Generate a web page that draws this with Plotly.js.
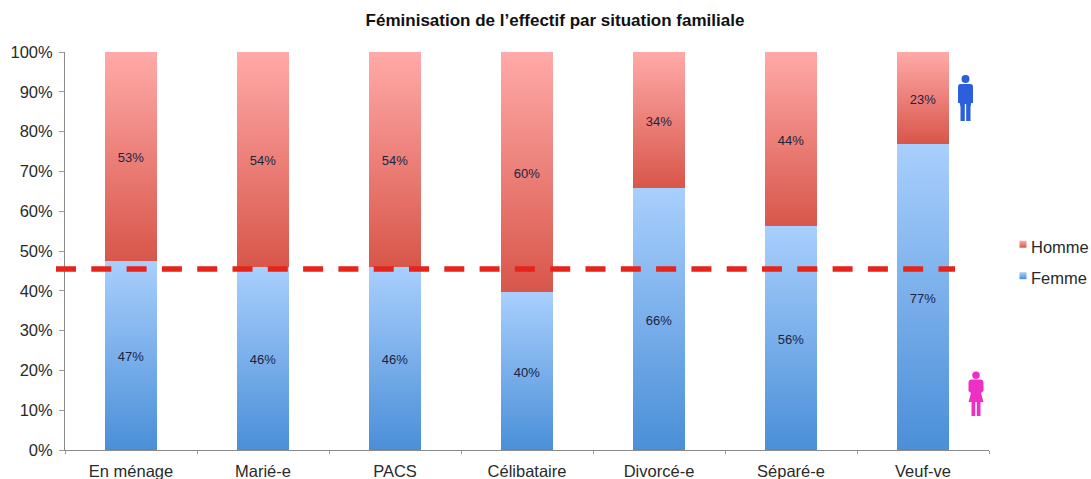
<!DOCTYPE html>
<html><head><meta charset="utf-8">
<script src="https://cdn.plot.ly/plotly-3.0.1.min.js"></script>
<style>html,body{margin:0;padding:0;background:#fff}#c{width:1091px;height:479px}</style>
</head><body><div id="c"></div>
<script>
const categories = ["En ménage","Marié-e","PACS","Célibataire","Divorcé-e","Séparé-e","Veuf-ve"];
const femme = [47.5,46,46,39.7,65.8,56.3,77];
const homme = [52.5,54,54,60.3,34.2,43.7,23];
const femmeLabels = ["47%","46%","46%","40%","66%","56%","77%"];
const hommeLabels = ["53%","54%","54%","60%","34%","44%","23%"];
const seuil = 45.5;
const tickVals = [0,10,20,30,40,50,60,70,80,90,100];
const tickText = ["0%","10%","20%","30%","40%","50%","60%","70%","80%","90%","100%"];

const FONT = '"Liberation Sans", Arial, sans-serif';
const manPath = "M0,46 Q4,46 4,42 Q4,38 0,38 Q-4,38 -4,42 Q-4,46 0,46 Z M-5,37 L5,37 Q7.5,37 7.5,34 L7.5,18 L5.8,18 L5,14 L5,0 L0.7,0 L0.7,17 L-0.7,17 L-0.7,0 L-5,0 L-5,14 L-5.8,18 L-7.5,18 L-7.5,34 Q-7.5,37 -5,37 Z";
const womanPath = "M0,44.5 Q3.8,44.5 3.8,40.7 Q3.8,37 0,37 Q-3.8,37 -3.8,40.7 Q-3.8,44.5 0,44.5 Z M-4.5,36.5 L4.5,36.5 Q7.5,36.5 7.5,33 L7.5,25 L5,23 L7.5,14 L4.5,14 L4.5,0 L0.8,0 L0.8,14 L-0.8,14 L-0.8,0 L-4.5,0 L-4.5,14 L-7.5,14 L-5,23 L-7.5,25 L-7.5,33 Q-7.5,36.5 -4.5,36.5 Z";

const traces = [
 {type:'bar',name:'Femme',x:categories,y:femme,text:femmeLabels,legendgroup:'f',legendrank:2,
  marker:{color:'#79aee8',line:{width:0}}},
 {type:'bar',name:'Homme',x:categories,y:homme,text:hommeLabels,legendgroup:'h',legendrank:1,
  marker:{color:'#ef7f78',line:{width:0}}}
].map(t=>Object.assign(t,{textposition:'inside',insidetextanchor:'middle',textangle:0,
  constraintext:'none',cliponaxis:false,hoverinfo:'skip',
  textfont:{family:FONT,size:13,color:'#1c2340'}}));

const layout = {
 width:1091,height:479,
 margin:{l:65,r:102,t:52,b:29,pad:0,autoexpand:false},
 paper_bgcolor:'#fff',plot_bgcolor:'#fff',
 barmode:'stack',bargap:0.6,showlegend:true,
 title:{text:"<b>Féminisation de l’effectif par situation familiale</b>",
   font:{family:FONT,size:17,color:'#111'},x:555/1091,xanchor:'center',y:1-20/479,yanchor:'middle'},
 xaxis:{type:'category',categoryorder:'array',categoryarray:categories,
   tickson:'boundaries',ticks:'outside',ticklen:3,tickcolor:'#999',tickwidth:1,ticklabelstandoff:6,
   showline:true,linecolor:'#8a8a8a',linewidth:1,showgrid:false,zeroline:false,
   tickfont:{family:FONT,size:16.5,color:'#2a2a2a'}},
 yaxis:{range:[0,100],tickvals:tickVals,ticktext:tickText,ticks:'outside',ticklen:5,ticklabelstandoff:3,
   tickcolor:'#999',tickwidth:1,showline:true,linecolor:'#8a8a8a',linewidth:1,
   showgrid:false,zeroline:false,tickfont:{family:FONT,size:16.5,color:'#2a2a2a'}},
 legend:{x:(991-65)/924,xanchor:'left',y:(450-229)/398,yanchor:'top',traceorder:'grouped',
   tracegroupgap:7,itemwidth:30,font:{family:FONT,size:16.5,color:'#2a2a2a'},bgcolor:'rgba(0,0,0,0)'},
 shapes:[
  {type:'line',xref:'paper',yref:'y',x0:(56-65)/924,x1:(955-65)/924,y0:seuil,y1:seuil,
   line:{color:'#e8231a',width:5.5,dash:'20px,15.3px'},layer:'above'},
  {type:'path',xref:'paper',yref:'paper',xsizemode:'pixel',ysizemode:'pixel',
   xanchor:(965.5-65)/924,yanchor:(450-121)/398,path:manPath,
   fillcolor:'#2b5fdc',line:{width:0}},
  {type:'path',xref:'paper',yref:'paper',xsizemode:'pixel',ysizemode:'pixel',
   xanchor:(976-65)/924,yanchor:(450-416)/398,path:womanPath,
   fillcolor:'#ee2fc4',line:{width:0}}
 ]
};

Plotly.newPlot('c',traces,layout,{displayModeBar:false,staticPlot:true}).then(gd=>{
 const NS='http://www.w3.org/2000/svg';
 const svg=gd.querySelector('svg.main-svg');
 const defs=svg.querySelector('defs')||svg.insertBefore(document.createElementNS(NS,'defs'),svg.firstChild);
 const grad=(id,top,bot)=>{
  const g=document.createElementNS(NS,'linearGradient');
  g.setAttribute('id',id);g.setAttribute('x1','0');g.setAttribute('y1','0');g.setAttribute('x2','0');g.setAttribute('y2','1');
  [[0,top],[1,bot]].forEach(([o,c])=>{const s=document.createElementNS(NS,'stop');
   s.setAttribute('offset',o);s.setAttribute('stop-color',c);g.appendChild(s);});
  defs.appendChild(g);
 };
 grad('gF','#a9cffd','#4a8fd8');
 grad('gH','#ffaaa8','#d8564a');
 const traceGs=gd.querySelectorAll('.barlayer .trace');
 ['gF','gH'].forEach((id,i)=>{
  traceGs[i].querySelectorAll('.point path').forEach(p=>p.style.fill='url(#'+id+')');
  traceGs[i].querySelectorAll('.bartext').forEach(t=>{
   t.setAttribute('transform','translate(0,1.5) '+(t.getAttribute('transform')||''));
  });
 });
 gd.querySelectorAll('.legend .traces').forEach(tr=>{
  const name=tr.querySelector('.legendtext').textContent;
  const p=tr.querySelector('.legendpoints path');
  if(p){p.style.fill='url(#'+(name==='Femme'?'gF':'gH')+')';
   p.setAttribute('d','M3.5,3.5H-3.5V-3.5H3.5Z');
   p.setAttribute('transform','translate(32,-2)');}
 });
});
</script></body></html>
